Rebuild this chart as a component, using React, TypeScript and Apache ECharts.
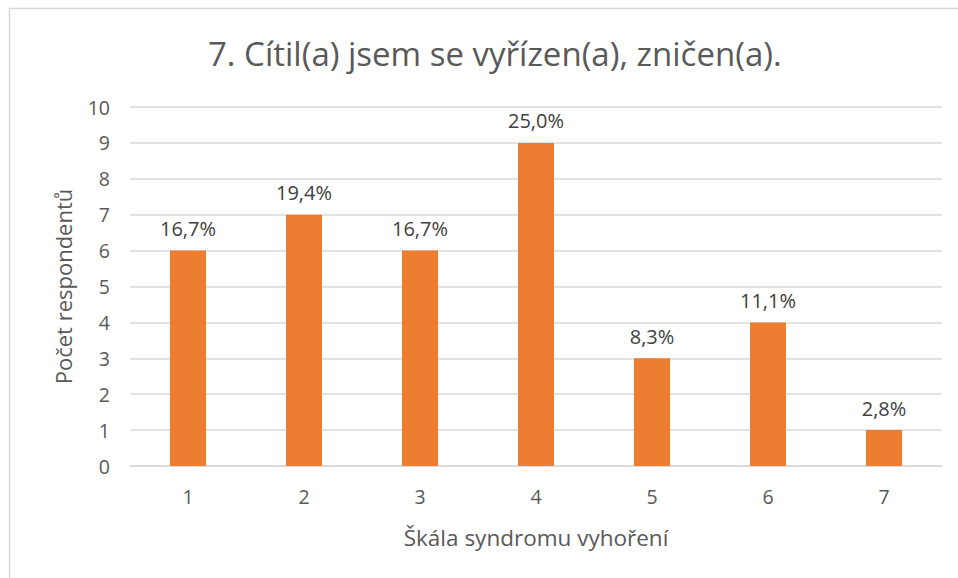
import React, { useEffect, useRef } from "react";
import * as echarts from "echarts";

const categories = ["1", "2", "3", "4", "5", "6", "7"];
const counts = [6, 7, 6, 9, 3, 4, 1];
const percentLabels = ["16,7%", "19,4%", "16,7%", "25,0%", "8,3%", "11,1%", "2,8%"];
const yTicks = { min: 0, max: 10, interval: 1 };

const titleText = "7. Cítil(a) jsem se vyřízen(a), zničen(a).";
const xAxisName = "Škála syndromu vyhoření";
const yAxisName = "Počet respondentů";

const FONT = "'Open Sans', 'Noto Sans', sans-serif";

export default function App() {
  const ref = useRef<HTMLDivElement>(null);
  useEffect(() => {
    if (!ref.current) return;
    const chart = echarts.init(ref.current, null, { renderer: "svg" });
    chart.setOption({
      animation: false,
      backgroundColor: "#ffffff",
      textStyle: { fontFamily: FONT },
      title: {
        text: titleText,
        left: 203,
        top: 32,
        textStyle: { fontFamily: FONT, fontSize: 33, fontWeight: "normal", color: "#595959" },
      },
      graphic: [
        {
          type: "rect",
          shape: { x: 9.5, y: 8.5, width: 980, height: 600 },
          style: { fill: "none", stroke: "#d9d9d9", lineWidth: 1.5 },
          silent: true,
        },
      ],
      grid: { left: 130, right: 16, top: 107, bottom: 112, containLabel: false },
      xAxis: {
        type: "category",
        data: categories,
        name: xAxisName,
        nameLocation: "middle",
        nameGap: 60,
        nameTextStyle: { fontFamily: FONT, fontSize: 22.5, color: "#595959" },
        axisLine: { show: true, lineStyle: { color: "#d9d9d9", width: 1.5 } },
        axisTick: { show: false },
        axisLabel: { margin: 20, fontFamily: FONT, fontSize: 19.5, color: "#595959" },
      },
      yAxis: {
        type: "value",
        min: yTicks.min,
        max: yTicks.max,
        interval: yTicks.interval,
        name: yAxisName,
        nameLocation: "middle",
        nameGap: 56,
        nameRotate: 90,
        nameTextStyle: { fontFamily: FONT, fontSize: 22, color: "#595959" },
        axisLine: { show: false },
        axisTick: { show: false },
        splitLine: { lineStyle: { color: "#d9d9d9", width: 1.5 } },
        axisLabel: { margin: 20, fontFamily: FONT, fontSize: 19.5, color: "#595959" },
      },
      series: [
        {
          type: "bar",
          data: counts,
          barWidth: 36,
          itemStyle: { color: "#ED7D31" },
          label: {
            show: true,
            position: "top",
            distance: 12,
            fontFamily: FONT,
            fontSize: 20,
            color: "#404040",
            formatter: (p: any) => percentLabels[p.dataIndex],
          },
        },
      ],
    });
    return () => chart.dispose();
  }, []);
  return (
    <div
      ref={ref}
      style={{ position: "fixed", left: 0, top: 0, width: 958, height: 578 }}
    />
  );
}
